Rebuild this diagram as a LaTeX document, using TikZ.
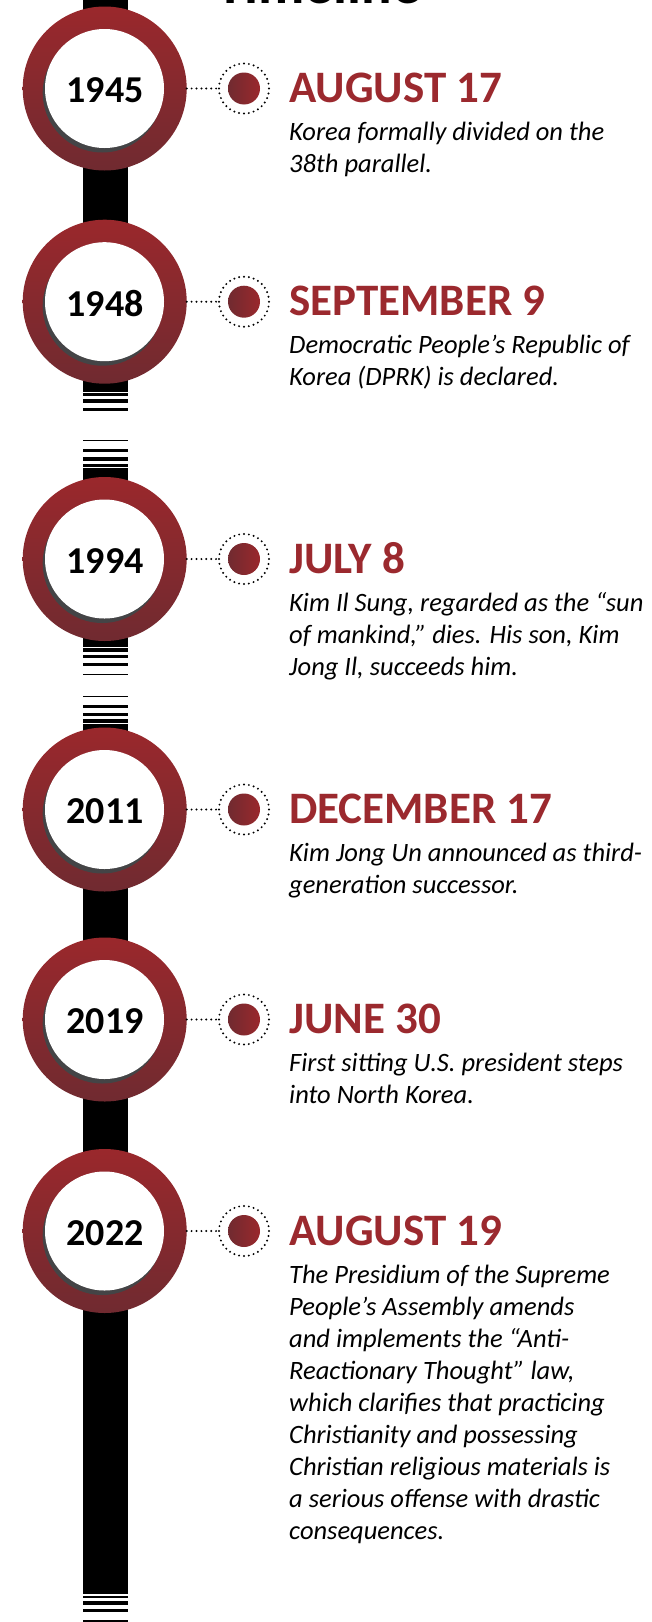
\documentclass[tikz,border=0pt]{standalone}
\usepackage{fontspec}
\setmainfont{Carlito}
\definecolor{ringtop}{RGB}{154,40,44}
\definecolor{ringbot}{RGB}{112,42,48}
\definecolor{headred}{RGB}{155,41,46}
\definecolor{shadowgray}{RGB}{68,68,70}

% one event on the timeline: #1 name, #2 centre y, #3 year, #4 date, #5 description
\newcommand{\eventrow}[5]{%
  \node[ring] (r#1) at (104.7,#2) {};
  \fill[shadowgray] (102.2,#2+4.5) circle[radius=59.5];
  \node[face] (f#1) at (104.5,#2) {};
  \node[yeartext] (y#1) at (105,#2+2) {#3};
  \node[dotring] (o#1) at (244,#2) {};
  \node[dotfill] (d#1) at (244,#2) {};
  \draw[dotline] (r#1.east) -- (o#1.west);
  \node[headtext] (h#1) at (289,#2+14) {#4};
  \node[bodytext] (b#1) at (289,#2+52) {\begin{tabular}[t]{@{}l@{}}#5\end{tabular}};
}

\begin{document}
\begin{tikzpicture}[x=1pt,y=-1pt,
  ring/.style={circle, minimum size=164pt, inner sep=0pt, outer sep=0pt,
    top color=ringtop, bottom color=ringbot},
  face/.style={circle, minimum size=119pt, inner sep=0pt, fill=white},
  yeartext/.style={inner sep=0pt, font=\fontsize{38}{42}\selectfont\bfseries},
  dotfill/.style={circle, minimum size=32pt, inner sep=0pt,
    left color=ringbot, right color=ringtop},
  dotring/.style={circle, minimum size=50pt, inner sep=0pt, outer sep=0pt, draw=black,
    line width=2.2pt, line cap=round, dash pattern=on 0pt off 4.9pt},
  dotline/.style={draw=black, line width=2.2pt, line cap=round, dash pattern=on 0pt off 4.9pt},
  headtext/.style={anchor=base west, inner sep=0pt, text=headred,
    font=\fontsize{45}{50}\selectfont\bfseries},
  bodytext/.style={anchor=base west, inner sep=0pt,
    font=\fontsize{26.5}{32}\selectfont\itshape},
]
\useasboundingbox (0,0) rectangle (652,1622);

% title, mostly above the page edge
\node[anchor=base west, inner sep=0pt, font=\fontsize{57}{62}\selectfont\bfseries] (title) at (216,3.5) {Timeline};

% the vertical bar with its broken, striped sections
\fill (83,0) rectangle (128,391.7);
\fill (83,392.7) rectangle (128,395.7);
\fill (83,399) rectangle (128,402.7);
\fill (83,408) rectangle (128,411);
\fill (83,439.7) rectangle (128,440.7);
\fill (83,448.7) rectangle (128,451.7);
\fill (83,456.7) rectangle (128,460.7);
\fill (83,463.7) rectangle (128,467);
\fill (83,468) rectangle (128,646.7);
\fill (83,648) rectangle (128,651.7);
\fill (83,655) rectangle (128,658);
\fill (83,663) rectangle (128,666);
\fill (83,673.7) rectangle (128,674.7);
\fill (83,695.7) rectangle (128,696.7);
\fill (83,705) rectangle (128,708);
\fill (83,712.7) rectangle (128,715.7);
\fill (83,719) rectangle (128,722.7);
\fill (83,724) rectangle (128,1594);
\fill (83,1596) rectangle (128,1598);
\fill (83,1601) rectangle (128,1604.7);
\fill (83,1609.3) rectangle (128,1612.3);
\fill (83,1620.3) rectangle (128,1621.7);

\eventrow{a}{88.5}{1945}{AUGUST 17}{Korea formally divided on the\\38th parallel.}
\eventrow{b}{301.7}{1948}{SEPTEMBER 9}{Democratic People’s Republic of\\Korea (DPRK) is declared.}
\eventrow{c}{559}{1994}{JULY 8}{Kim Il Sung, regarded as the “sun\\of mankind,” dies. His son, Kim\\Jong Il, succeeds him.}
\eventrow{d}{809.5}{2011}{DECEMBER 17}{Kim Jong Un announced as third-\\generation successor.}
\eventrow{e}{1019.5}{2019}{JUNE 30}{First sitting U.S. president steps\\into North Korea.}
\eventrow{f}{1231}{2022}{AUGUST 19}{The Presidium of the Supreme\\People’s Assembly amends\\and implements the “Anti-\\Reactionary Thought” law,\\which clarifies that practicing\\Christianity and possessing\\Christian religious materials is\\a serious offense with drastic\\consequences.}
\end{tikzpicture}
\end{document}
